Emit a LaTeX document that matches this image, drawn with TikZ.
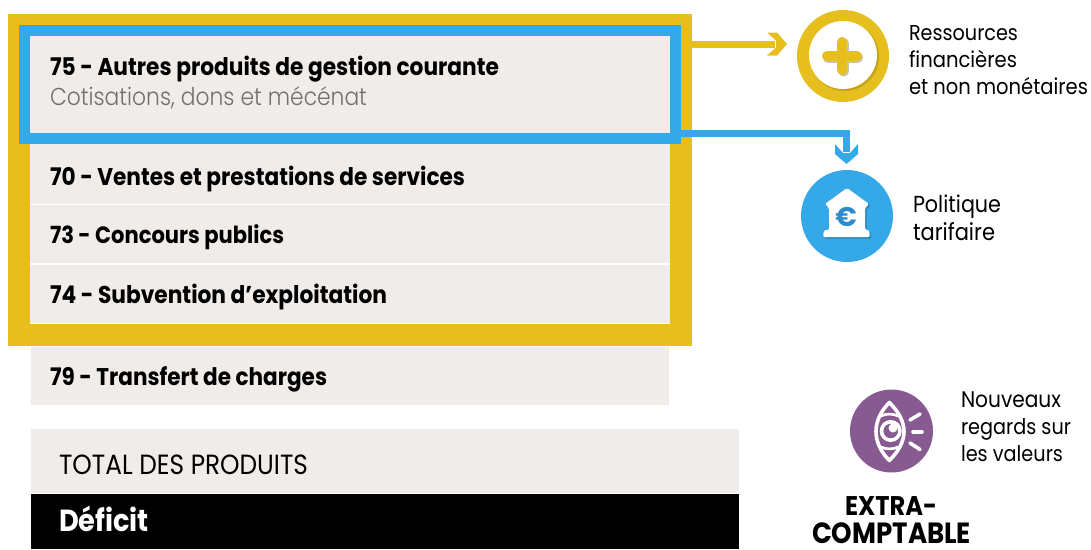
\documentclass[tikz,border=0pt]{standalone}
\usepackage{fontspec}
\usepackage{graphicx}
\setmainfont{Poppins}
\newfontfamily\lightf{Poppins Light}
\usetikzlibrary{arrows.meta}
\definecolor{goldc}{HTML}{E6BE1E}
\definecolor{bluec}{HTML}{35A8E8}
\definecolor{rowc}{HTML}{F0ECE9}
\definecolor{purplec}{HTML}{875A91}
\definecolor{greyc}{HTML}{707070}
\definecolor{eurocol}{HTML}{2C8CCB}
\newcommand{\fitw}[2]{\scalebox{1}[1.12]{\resizebox{#1pt}{!}{#2}}}
\pgfdeclarearrow{
  name=Chevron,
  setup code={
    \pgfarrowssettipend{0pt}
    \pgfarrowssetlineend{-12pt}
    \pgfarrowssetvisualbackend{-20pt}
    \pgfarrowssetbackend{-20pt}
  },
  drawing code={
    \pgfpathmoveto{\pgfpoint{0pt}{0pt}}
    \pgfpathlineto{\pgfpoint{-10pt}{11.5pt}}
    \pgfpathlineto{\pgfpoint{-20pt}{11.5pt}}
    \pgfpathlineto{\pgfpoint{-11pt}{3.5pt}}
    \pgfpathlineto{\pgfpoint{-11pt}{-3.5pt}}
    \pgfpathlineto{\pgfpoint{-20pt}{-11.5pt}}
    \pgfpathlineto{\pgfpoint{-10pt}{-11.5pt}}
    \pgfpathclose
    \pgfusepathqfill
  }
}
\tikzset{
  x=1pt,y=-1pt,
  rowbox/.style={fill=rowc,draw=none,anchor=north west,inner sep=0pt,outer sep=0pt},
  lab/.style={anchor=base west,inner sep=0pt,outer sep=0pt,text=black},
  frame/.style={draw=#1,fill=none,inner sep=0pt,outer sep=0pt},
  conn/.style={draw=#1,line width=7pt,-{Chevron}},
  disc/.style={circle,fill=#1,draw=none,inner sep=0pt,outer sep=0pt},
  eyeline/.style={draw=white,line width=3.6pt,line cap=round},
  softshadow/.style={fill=black,opacity=0.14,draw=none}
}
\begin{document}
\begin{tikzpicture}
\useasboundingbox (0,0) rectangle (1091,549);
% rows
\node[rowbox,minimum width=640pt,minimum height=97pt] (r75) at (30,36) {};
\node[rowbox,minimum width=640pt,minimum height=60pt] (r70) at (30,144) {};
\node[rowbox,minimum width=640pt,minimum height=58pt] (r73) at (30,205) {};
\node[rowbox,minimum width=640pt,minimum height=58pt] (r74) at (30,265) {};
\node[rowbox,minimum width=638pt,minimum height=58pt] (r79) at (31,347) {};
\node[rowbox,minimum width=708pt,minimum height=64pt] (rtot) at (31,429) {};
\node[rowbox,fill=black,minimum width=708pt,minimum height=55pt] (rdef) at (31,494) {};
% frames and connectors
\node[frame=goldc,line width=22pt,minimum width=662pt,minimum height=310pt] (goldframe) at (350,180) {};
\coordinate (goldtip) at (787,44);
\coordinate (bluetip) at (846.5,164);
\coordinate (bluerun) at (846.5,133.5);
\draw[conn=goldc] (goldframe.east |- goldtip) -- (goldtip);
\node[frame=bluec,line width=11pt,minimum width=651pt,minimum height=108pt] (blueframe) at (350,84.5) {};
\draw[conn=bluec] (blueframe.east |- bluerun) -- (bluerun) -- (bluetip);
% row labels
\node[lab] (t75) at (50,75) {\fitw{449}{\bfseries 75 - Autres produits de gestion courante}};
\node[lab,text=greyc] (t75b) at (50,105) {\fitw{317}{\lightf Cotisations, dons et mécénat}};
\node[lab] (t70) at (50,185) {\fitw{415}{\bfseries 70 - Ventes et prestations de services}};
\node[lab] (t73) at (50,243) {\fitw{234}{\bfseries 73 - Concours publics}};
\node[lab] (t74) at (50,303) {\fitw{337}{\bfseries 74 - Subvention d’exploitation}};
\node[lab] (t79) at (50,385) {\fitw{277}{\bfseries 79 - Transfert de charges}};
\node[lab] (ttot) at (59,474) {\fitw{249}{TOTAL DES PRODUITS}};
\node[lab,text=white] (tdef) at (59,531) {\fitw{90}{\bfseries Déficit}};
% plus icon
\node[disc=goldc,minimum size=92pt] (plus) at (843,56) {};
\fill[softshadow] (844.5,56.5) circle (34.5);
\node[disc=white,minimum size=68pt] (plusin) at (843,55) {};
\begin{scope}[line cap=round]
\draw[line width=10pt,black!55!goldc,opacity=0.35] (828,57.5) -- (858,57.5) (843.5,43) -- (843.5,71.5);
\draw[line width=10pt,goldc] (827,56) -- (857,56) (842,42) -- (842,70);
\end{scope}
% bank icon
\node[disc=bluec,minimum size=92pt] (bank) at (847,216) {};
\begin{scope}[shift={(1.5,1.5)},opacity=0.2]
\fill[black,rounded corners=1.5pt] (847,188) -- (869,204) -- (865,208) -- (865,230) -- (869,230) -- (870,237) -- (823,237) -- (824,230) -- (829,230) -- (829,208) -- (825,204) -- cycle;
\end{scope}
\fill[white,rounded corners=1.5pt] (847,188) -- (869,204) -- (865,208) -- (865,230) -- (869,230) -- (870,237) -- (823,237) -- (824,230) -- (829,230) -- (829,208) -- (825,204) -- cycle;
\node[inner sep=0pt,text=eurocol] (euro) at (846,217) {\fontsize{27}{27}\selectfont\bfseries €};
% eye icon
\node[disc=purplec,minimum size=83pt] (eye) at (891.5,431) {};
\draw[eyeline,line join=round] (889.3,402.5) .. controls (880,412) and (876,422) .. (876,431.5) .. controls (876,441) and (880,451) .. (889.3,460.5) .. controls (899,451) and (904,441) .. (904,431.5) .. controls (904,422) and (899,412) .. (889.3,402.5) -- cycle;
\draw[eyeline,line width=2.6pt] (881,416) .. controls (886,413.5) and (893,413.5) .. (898,416);
\draw[eyeline,line width=2.6pt] (881,447) .. controls (886,449.5) and (893,449.5) .. (898,447);
\draw[eyeline] (890.7,431) circle (9.2);
\fill[white] (893,428) circle (4.5);
\draw[eyeline] (910,420) -- (920,414);
\draw[eyeline] (913,431.7) -- (922,431.7);
\draw[eyeline] (910,443) -- (920,449.5);
% right labels
\node[lab] (a1) at (909,40) {\fitw{109}{Ressources}};
\node[lab] (a2) at (909,67) {\fitw{108}{financières}};
\node[lab] (a3) at (909,94) {\fitw{179}{et non monétaires}};
\node[lab] (b1) at (913,212) {\fitw{88}{Politique}};
\node[lab] (b2) at (913,240) {\fitw{82}{tarifaire}};
\node[lab] (c1) at (961,407) {\fitw{100}{Nouveaux}};
\node[lab] (c2) at (961,434) {\fitw{110}{regards sur}};
\node[lab] (c3) at (961,461) {\fitw{102}{les valeurs}};
\node[lab] (e1) at (845,515) {\fitw{92}{\bfseries EXTRA-}};
\node[lab] (e2) at (812,543) {\fitw{159}{\bfseries COMPTABLE}};
\end{tikzpicture}
\end{document}
